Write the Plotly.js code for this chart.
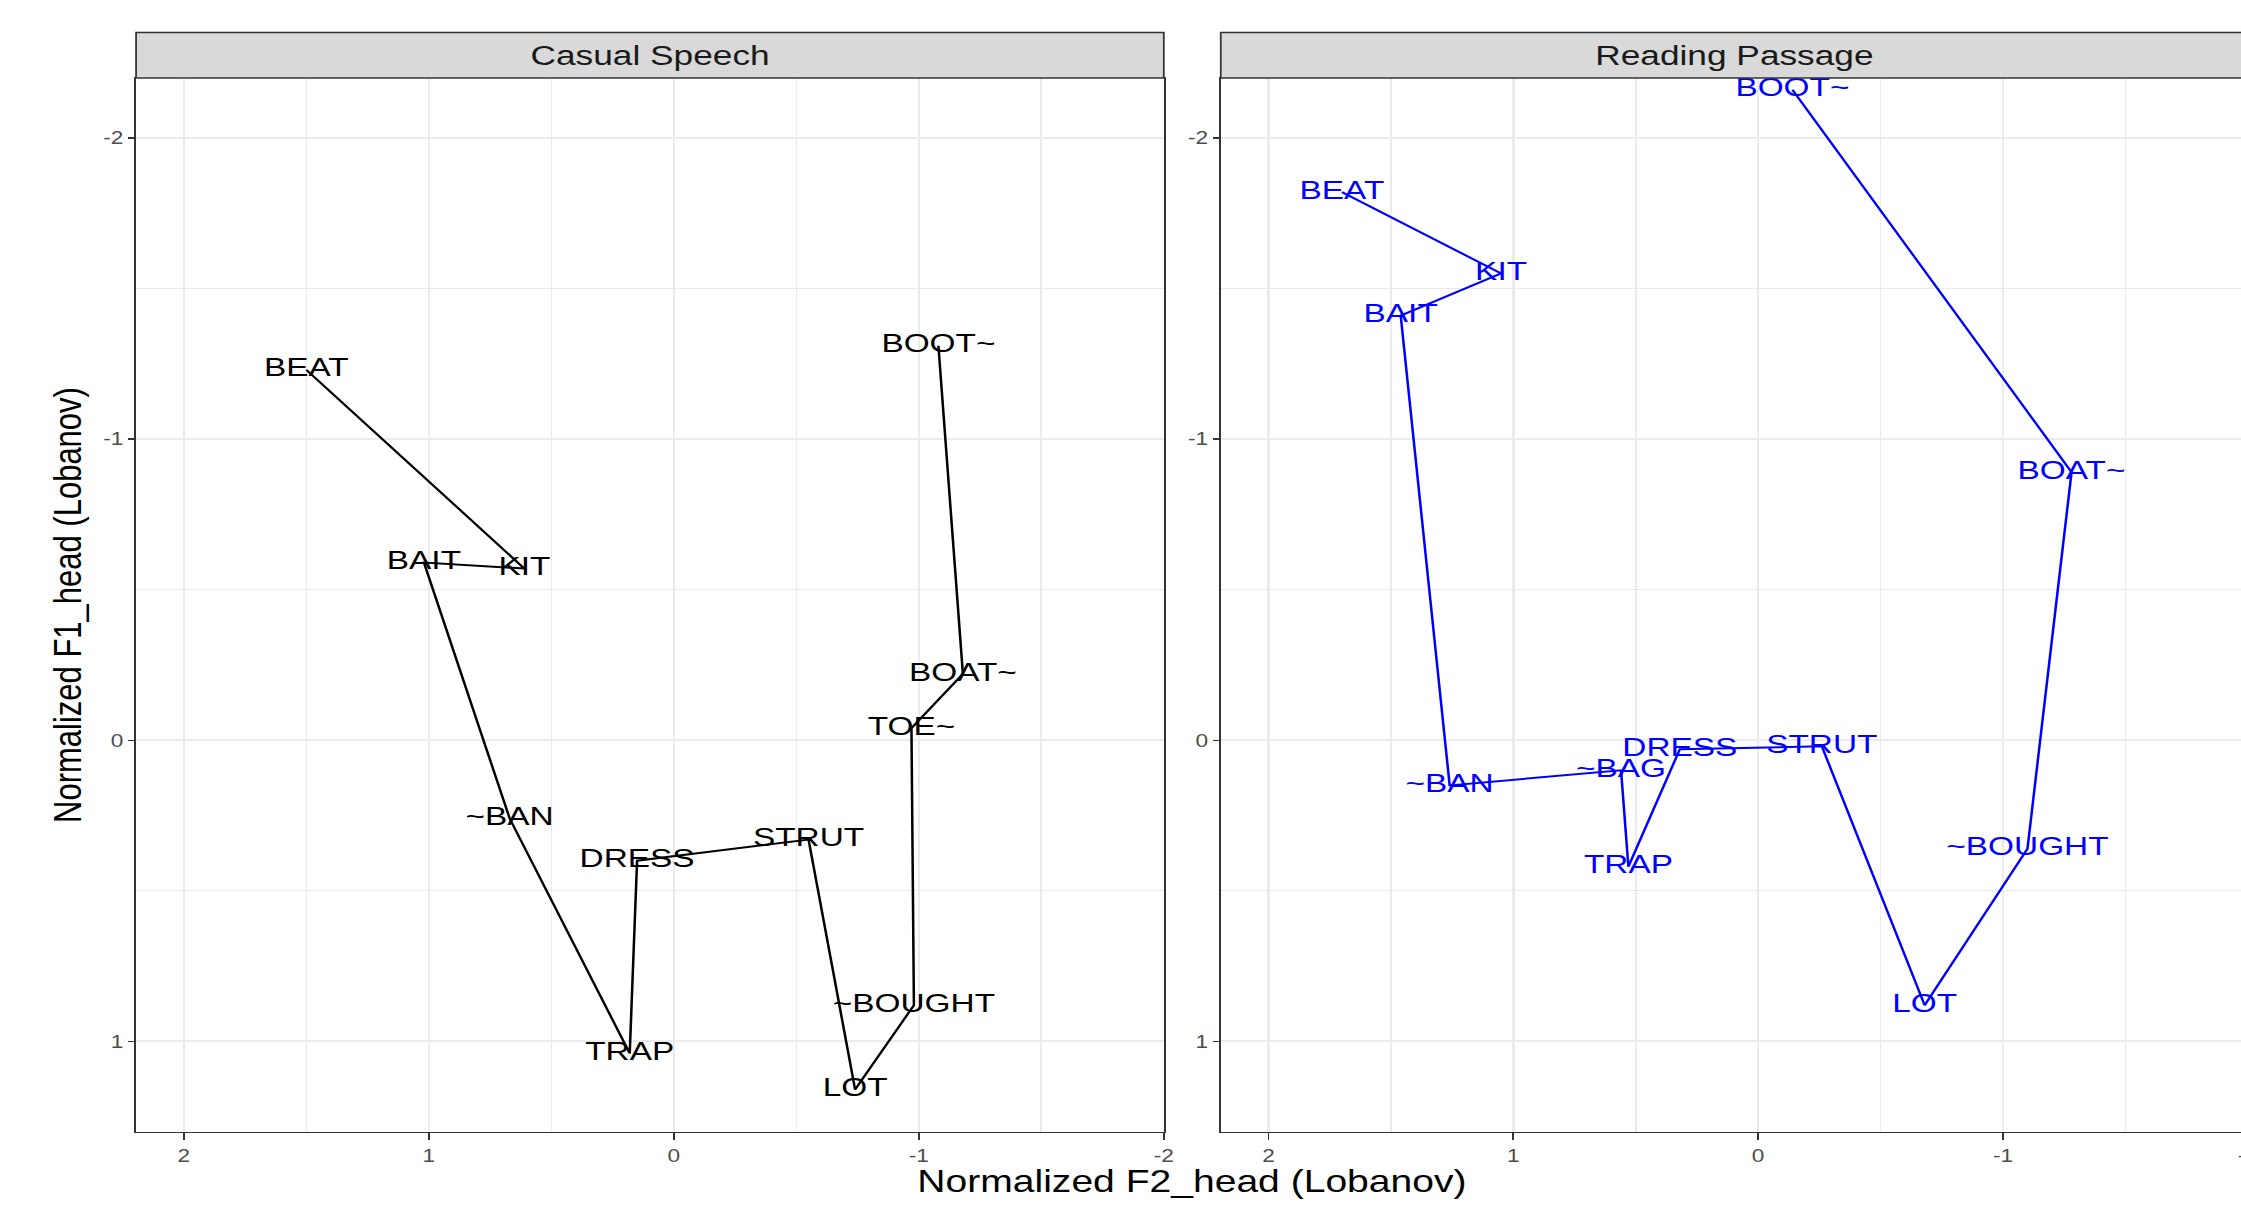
<!DOCTYPE html>
<html>
<head>
<meta charset="utf-8">
<script src="https://cdn.plot.ly/plotly-3.0.1.min.js"></script>
<style>
  html, body { margin: 0; padding: 0; overflow: hidden; background: #ffffff; width: 2241px; height: 1207px; }
  /* the figure is laid out at 1800 px and widened horizontally */
  #plot { width: 1800px; height: 1207px; transform: scaleX(1.26); transform-origin: 0 0; }
</style>
</head>
<body>
<div id="plot"></div>
<script>
// Vowel trajectories, Lobanov-normalized formants at the vowel head
const casualVowels = ['BEAT', 'KIT', 'BAIT', '~BAN', 'TRAP', 'DRESS', 'STRUT', 'LOT', '~BOUGHT', 'TOE~', 'BOAT~', 'BOOT~'];
const casualF2 = [1.50, 0.61, 1.02, 0.67, 0.18, 0.15, -0.55, -0.74, -0.98, -0.97, -1.18, -1.08];
const casualF1 = [-1.23, -0.57, -0.59, 0.26, 1.04, 0.40, 0.33, 1.16, 0.88, -0.04, -0.22, -1.31];

const readingVowels = ['BEAT', 'KIT', 'BAIT', '~BAN', '~BAG', 'TRAP', 'DRESS', 'STRUT', 'LOT', '~BOUGHT', 'BOAT~', 'BOOT~'];
const readingF2 = [1.70, 1.05, 1.46, 1.26, 0.56, 0.53, 0.32, -0.26, -0.68, -1.10, -1.28, -0.14];
const readingF1 = [-1.82, -1.55, -1.41, 0.15, 0.10, 0.42, 0.03, 0.02, 0.88, 0.36, -0.89, -2.16];

const panelTitles = ['Casual Speech', 'Reading Passage'];
const xTickVals = [2, 1, 0, -1, -2];
const xTickText = ['2', '1', '0', '-1', '-2'];
const yTickVals = [-2, -1, 0, 1];
const yTickText = ['-2', '-1', '0', '1'];
const xTitle = 'Normalized F2_head (Lobanov)';
const yTitle = 'Normalized F1_head (Lobanov)';

const FONT = '"Liberation Sans", Arial, Helvetica, sans-serif';
const W = 1800, H = 1207;
const PLOT_L = 108, PLOT_R = 1783.7, PLOT_T = 77.5, PLOT_B = 1132;
const plotW = PLOT_R - PLOT_L, plotH = PLOT_B - PLOT_T;
const STRIP_H = 45.5;

function pathTrace(f2, f1, names, color, xa, ya) {
  return {
    type: 'scatter',
    mode: 'lines+text',
    x: f2, y: f1, text: names,
    xaxis: xa, yaxis: ya,
    line: { color: color, width: 2 },
    textposition: 'middle center',
    textfont: { family: FONT, size: 26.5, color: color },
    cliponaxis: false,
    hoverinfo: 'skip'
  };
}

const data = [
  pathTrace(casualF2, casualF1, casualVowels, '#000000', 'x', 'y'),
  pathTrace(readingF2, readingF1, readingVowels, '#0000FF', 'x2', 'y2')
];

const baseAxis = {
  showline: true, mirror: true, linecolor: '#333333', linewidth: 1.4,
  showgrid: true, gridcolor: '#EBEBEB', gridwidth: 2,
  zeroline: false,
  ticks: 'outside', tickcolor: '#333333', tickwidth: 1.4,
  tickfont: { family: FONT, size: 18, color: '#4D4D4D' },
  minor: { tickmode: 'linear', tick0: 0.5, dtick: 1, showgrid: true, gridcolor: '#EBEBEB', gridwidth: 1.3, ticks: '' },
  tickmode: 'array',
  fixedrange: true
};

function xAxis(domain, anchor) {
  return Object.assign({}, baseAxis, {
    domain: domain, anchor: anchor, range: [2.195, -2.0],
    tickvals: xTickVals, ticktext: xTickText, ticklen: 7
  });
}
function yAxis(anchor) {
  return Object.assign({}, baseAxis, {
    domain: [0, 1], anchor: anchor, range: [1.301, -2.199],
    tickvals: yTickVals, ticktext: yTickText, ticklen: 5
  });
}

const leftEnd = (923.5 - PLOT_L) / plotW;
const rightStart = (968.7 - PLOT_L) / plotW;
const stripTop = 1 + STRIP_H / plotH;

const shapes = ['x domain', 'x2 domain'].map(ref => ({
  type: 'rect', xref: ref, yref: 'paper',
  x0: 0, x1: 1, y0: 1, y1: stripTop,
  fillcolor: '#D9D9D9', line: { color: '#333333', width: 1.4 },
  layer: 'above'
}));

const annotations = [
  ...panelTitles.map((t, i) => ({
    text: t, xref: i === 0 ? 'x domain' : 'x2 domain', yref: 'paper',
    x: 0.5, y: 1 + STRIP_H / 2 / plotH, xanchor: 'center', yanchor: 'middle',
    showarrow: false, font: { family: FONT, size: 28, color: '#1A1A1A' }
  })),
  {
    text: xTitle, xref: 'paper', yref: 'paper', x: 0.5, y: -(1182 - PLOT_B) / plotH,
    xanchor: 'center', yanchor: 'middle', showarrow: false,
    font: { family: FONT, size: 31, color: '#000000' }
  },
  {
    text: yTitle, xref: 'paper', yref: 'paper', x: (53 - PLOT_L) / plotW, y: 0.5,
    xanchor: 'center', yanchor: 'middle', textangle: -90, showarrow: false,
    font: { family: FONT, size: 31, color: '#000000' }
  }
];

const layout = {
  width: W, height: H,
  margin: { l: PLOT_L, r: W - PLOT_R, t: PLOT_T, b: H - PLOT_B, pad: 0 },
  paper_bgcolor: '#FFFFFF', plot_bgcolor: '#FFFFFF',
  showlegend: false,
  font: { family: FONT },
  xaxis: xAxis([0, leftEnd], 'y'),
  yaxis: yAxis('x'),
  xaxis2: xAxis([rightStart, 1], 'y2'),
  yaxis2: yAxis('x2'),
  shapes: shapes,
  annotations: annotations
};

Plotly.newPlot('plot', data, layout, { displayModeBar: false, staticPlot: true });
</script>
</body>
</html>
